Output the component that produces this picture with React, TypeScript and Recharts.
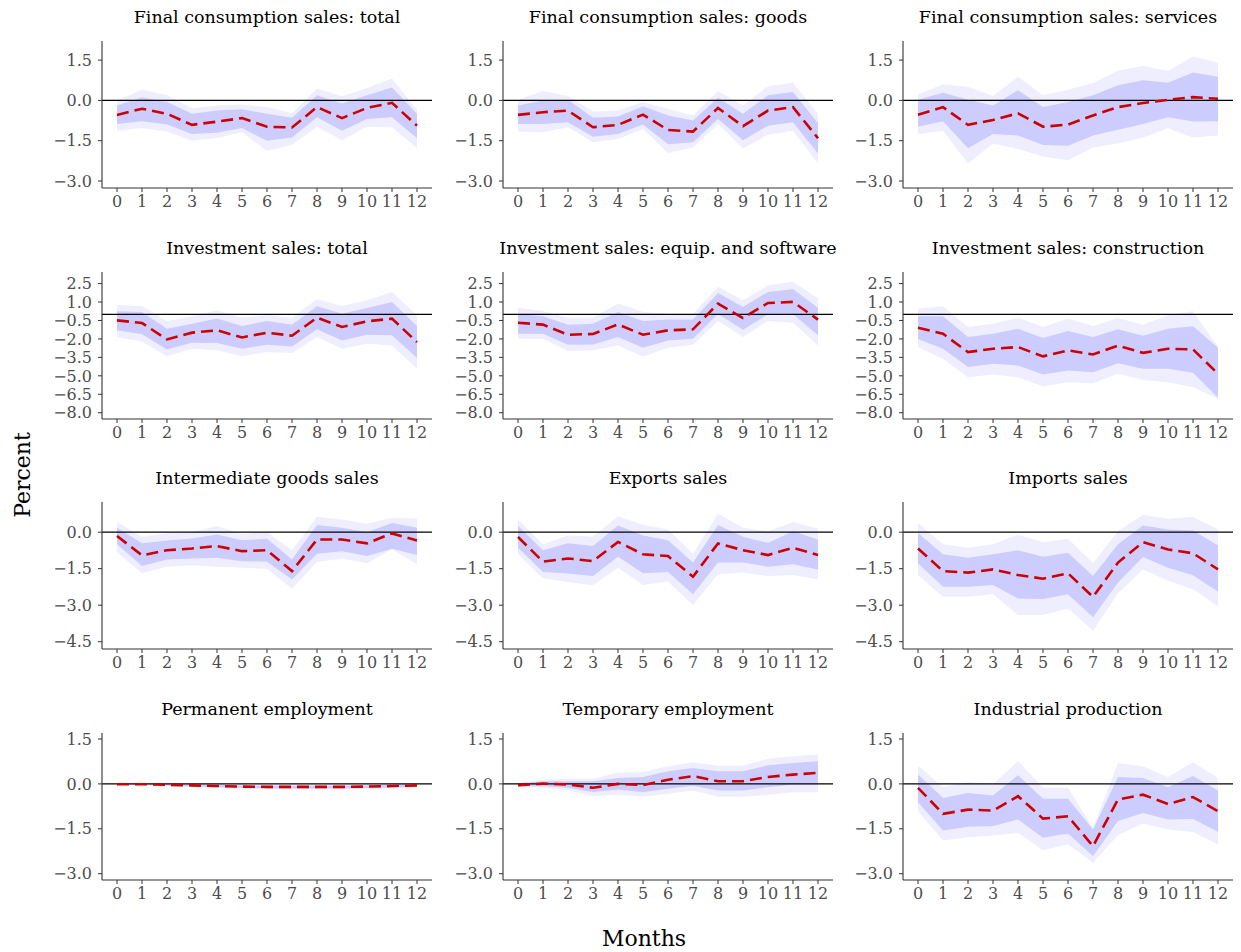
import React from "react";
import { ComposedChart, Area, Line, XAxis, YAxis, ReferenceLine } from "recharts";

const months = [0, 1, 2, 3, 4, 5, 6, 7, 8, 9, 10, 11, 12];

// Row tick labels
const ticksRow1 = [1.5, 0, -1.5, -3.0];
const ticksRow2 = [2.5, 1.0, -0.5, -2.0, -3.5, -5.0, -6.5, -8.0];
const ticksRow3 = [0, -1.5, -3.0, -4.5];
const ticksRow4 = [1.5, 0, -1.5, -3.0];

const titles = [
  "Final consumption sales: total",
  "Final consumption sales: goods",
  "Final consumption sales: services",
  "Investment sales: total",
  "Investment sales: equip. and software",
  "Investment sales: construction",
  "Intermediate goods sales",
  "Exports sales",
  "Imports sales",
  "Permanent employment",
  "Temporary employment",
  "Industrial production",
];

// 1 Final consumption total
const fcTotalMid = [-0.54, -0.31, -0.5, -0.91, -0.79, -0.66, -0.98, -1.01, -0.25, -0.66, -0.28, -0.09, -0.94];
const fcTotalInLo = [-0.88, -0.78, -0.9, -1.25, -1.2, -1.03, -1.5, -1.38, -0.63, -1.13, -0.69, -0.63, -1.41];
const fcTotalInHi = [-0.19, 0.12, -0.06, -0.5, -0.38, -0.33, -0.5, -0.65, 0.19, -0.12, 0.19, 0.48, -0.5];
const fcTotalOutLo = [-1.13, -1.03, -1.16, -1.5, -1.4, -1.19, -1.88, -1.65, -0.98, -1.48, -0.98, -1.0, -1.78];
const fcTotalOutHi = [0.0, 0.4, 0.19, -0.29, -0.19, -0.15, -0.25, -0.48, 0.44, 0.15, 0.46, 0.81, -0.35];

// 2 Final consumption goods
const fcGoodsMid = [-0.54, -0.44, -0.38, -1.0, -0.91, -0.53, -1.1, -1.16, -0.28, -0.96, -0.38, -0.25, -1.41];
const fcGoodsInLo = [-0.88, -0.88, -0.81, -1.35, -1.25, -0.9, -1.63, -1.56, -0.69, -1.48, -0.94, -0.81, -1.98];
const fcGoodsInHi = [-0.19, 0.0, 0.02, -0.65, -0.6, -0.22, -0.56, -0.75, 0.1, -0.5, 0.19, 0.31, -0.85];
const fcGoodsOutLo = [-1.16, -1.19, -1.0, -1.56, -1.44, -1.06, -1.96, -1.75, -0.88, -1.79, -1.28, -1.13, -2.35];
const fcGoodsOutHi = [0.02, 0.35, 0.16, -0.41, -0.38, -0.06, -0.31, -0.56, 0.35, -0.19, 0.53, 0.66, -0.5];

// 3 Final consumption services
const fcServMid = [-0.53, -0.25, -0.91, -0.73, -0.48, -0.98, -0.9, -0.56, -0.25, -0.1, 0.02, 0.12, 0.06];
const fcServInLo = [-0.98, -0.78, -1.78, -1.25, -1.31, -1.66, -1.69, -1.31, -1.09, -0.88, -0.63, -0.79, -0.78];
const fcServInHi = [0.02, 0.28, 0.02, -0.19, 0.38, -0.25, -0.06, 0.19, 0.56, 0.75, 0.66, 1.04, 0.88];
const fcServOutLo = [-1.25, -1.13, -2.35, -1.6, -1.81, -2.09, -2.23, -1.75, -1.6, -1.38, -1.04, -1.38, -1.31];
const fcServOutHi = [0.22, 0.6, 0.5, 0.16, 0.88, 0.19, 0.4, 0.65, 1.1, 1.29, 1.09, 1.63, 1.4];

// 4 Investment total
const invTotalMid = [-0.49, -0.71, -2.04, -1.49, -1.3, -1.88, -1.49, -1.74, -0.27, -1.03, -0.57, -0.35, -2.26];
const invTotalInLo = [-1.3, -1.63, -2.85, -2.31, -2.34, -2.8, -2.47, -2.61, -1.22, -2.12, -1.66, -1.71, -3.56];
const invTotalInHi = [0.24, 0.19, -1.17, -0.76, -0.35, -0.95, -0.54, -0.84, 0.65, 0.05, 0.52, 1.01, -0.95];
const invTotalOutLo = [-1.85, -2.2, -3.4, -2.8, -2.93, -3.4, -3.07, -3.15, -1.85, -2.8, -2.39, -2.53, -4.43];
const invTotalOutHi = [0.73, 0.68, -0.57, -0.16, 0.33, -0.27, -0.08, -0.27, 1.22, 0.68, 1.14, 1.82, -0.08];

// 5 Investment equipment and software
const invEqMid = [-0.68, -0.84, -1.66, -1.6, -0.82, -1.66, -1.3, -1.22, 0.87, -0.3, 0.92, 1.01, -0.43];
const invEqInLo = [-1.58, -1.58, -2.47, -2.45, -1.85, -2.72, -2.12, -1.98, 0.05, -1.25, 0.0, 0.0, -1.71];
const invEqInHi = [0.05, -0.16, -0.84, -0.76, 0.19, -0.54, -0.43, -0.43, 1.74, 0.6, 1.82, 2.04, 0.54];
const invEqOutLo = [-1.98, -1.98, -2.99, -2.93, -2.53, -3.42, -2.72, -2.47, -0.54, -1.85, -0.54, -0.68, -2.53];
const invEqOutHi = [0.54, 0.27, -0.27, -0.27, 0.87, 0.19, 0.05, 0.05, 2.23, 1.14, 2.36, 2.64, 1.28];

// 6 Investment construction
const invConMid = [-1.09, -1.58, -3.07, -2.8, -2.66, -3.42, -2.93, -3.26, -2.55, -3.13, -2.8, -2.85, -4.84];
const invConInLo = [-2.01, -2.8, -4.29, -4.02, -4.16, -4.89, -4.57, -4.7, -3.97, -4.43, -4.43, -4.76, -6.79];
const invConInHi = [-0.16, -0.16, -1.85, -1.58, -1.17, -1.93, -1.36, -1.85, -1.22, -1.74, -1.17, -0.98, -2.72];
const invConOutLo = [-2.66, -3.61, -5.11, -4.89, -5.11, -5.84, -5.52, -5.6, -4.84, -5.33, -5.52, -5.92, -6.85];
const invConOutHi = [0.46, 0.65, -1.03, -0.76, -0.27, -1.03, -0.35, -0.95, -0.3, -0.84, -0.08, 0.24, -2.65];

// 7 Intermediate goods
const intMid = [-0.16, -0.95, -0.74, -0.67, -0.57, -0.78, -0.74, -1.6, -0.3, -0.3, -0.46, -0.05, -0.34];
const intInLo = [-0.5, -1.39, -1.12, -1.08, -1.05, -1.19, -1.21, -1.94, -0.89, -0.78, -0.98, -0.68, -0.94];
const intInHi = [0.18, -0.46, -0.34, -0.26, -0.1, -0.33, -0.27, -1.12, 0.29, 0.18, 0.0, 0.38, 0.18];
const intOutLo = [-0.82, -1.69, -1.42, -1.36, -1.42, -1.46, -1.5, -2.32, -1.23, -1.08, -1.28, -0.7, -1.32];
const intOutHi = [0.42, -0.19, -0.05, 0.01, 0.25, -0.07, 0.0, -0.74, 0.63, 0.52, 0.35, 0.59, 0.55];

// 8 Exports
const expMid = [-0.2, -1.21, -1.08, -1.19, -0.4, -0.91, -0.98, -1.83, -0.46, -0.74, -0.94, -0.64, -0.94];
const expInLo = [-0.64, -1.64, -1.7, -1.8, -1.01, -1.69, -1.64, -2.55, -1.25, -1.25, -1.42, -1.32, -1.53];
const expInHi = [0.25, -0.74, -0.46, -0.57, 0.27, -0.14, -0.33, -1.25, 0.29, -0.19, -0.44, 0.04, -0.3];
const expOutLo = [-0.91, -1.9, -2.05, -2.18, -1.46, -2.17, -2.03, -2.99, -1.73, -1.66, -1.8, -1.76, -1.94];
const expOutHi = [0.52, -0.5, -0.14, -0.19, 0.65, 0.31, 0.11, -0.89, 0.76, 0.18, 0.04, 0.42, 0.14];

// 9 Imports
const impMid = [-0.67, -1.6, -1.66, -1.53, -1.76, -1.91, -1.69, -2.66, -1.25, -0.41, -0.71, -0.87, -1.53];
const impInLo = [-1.28, -2.24, -2.24, -2.17, -2.73, -2.75, -2.55, -3.5, -2.07, -1.02, -1.46, -1.77, -2.45];
const impInHi = [-0.03, -0.91, -1.05, -0.91, -0.74, -1.01, -0.85, -1.8, -0.5, 0.27, 0.11, 0.07, -0.55];
const impOutLo = [-1.77, -2.65, -2.65, -2.55, -3.4, -3.4, -3.14, -4.05, -2.51, -1.53, -2.0, -2.35, -3.05];
const impOutHi = [0.38, -0.5, -0.64, -0.5, -0.1, -0.41, -0.27, -1.28, 0.04, 0.72, 0.55, 0.63, 0.11];

// 10 Permanent employment
const permMid = [-0.01, -0.01, -0.03, -0.05, -0.07, -0.09, -0.1, -0.1, -0.1, -0.1, -0.09, -0.07, -0.05];
const permInLo = [-0.02, -0.04, -0.06, -0.09, -0.11, -0.13, -0.15, -0.15, -0.15, -0.15, -0.14, -0.12, -0.1];
const permInHi = [0.0, 0.01, 0.0, -0.01, -0.03, -0.05, -0.06, -0.06, -0.06, -0.06, -0.05, -0.03, -0.01];
const permOutLo = [-0.03, -0.05, -0.08, -0.11, -0.13, -0.16, -0.18, -0.18, -0.18, -0.18, -0.17, -0.15, -0.13];
const permOutHi = [0.01, 0.02, 0.01, 0.0, -0.01, -0.03, -0.04, -0.04, -0.04, -0.04, -0.03, -0.01, 0.01];

// 11 Temporary employment
const tempMid = [-0.04, 0.01, -0.02, -0.13, 0.0, -0.04, 0.14, 0.26, 0.09, 0.09, 0.23, 0.31, 0.37];
const tempInLo = [-0.08, -0.08, -0.13, -0.27, -0.19, -0.28, -0.16, -0.06, -0.22, -0.22, -0.11, -0.02, -0.02];
const tempInHi = [0.01, 0.09, 0.09, 0.09, 0.2, 0.23, 0.42, 0.53, 0.42, 0.42, 0.62, 0.7, 0.76];
const tempOutLo = [-0.1, -0.13, -0.21, -0.41, -0.36, -0.43, -0.33, -0.22, -0.43, -0.43, -0.36, -0.28, -0.28];
const tempOutHi = [0.03, 0.14, 0.17, 0.17, 0.37, 0.4, 0.59, 0.72, 0.61, 0.61, 0.84, 0.92, 0.98];

// 12 Industrial production
const ipMid = [-0.13, -1.0, -0.86, -0.89, -0.41, -1.16, -1.08, -2.08, -0.52, -0.36, -0.67, -0.44, -0.91];
const ipInLo = [-0.61, -1.56, -1.43, -1.41, -1.19, -1.8, -1.66, -2.41, -1.24, -0.97, -1.19, -1.17, -1.6];
const ipInHi = [0.31, -0.47, -0.3, -0.39, 0.29, -0.5, -0.5, -1.52, 0.23, 0.2, -0.11, 0.26, -0.22];
const ipOutLo = [-0.91, -1.89, -1.78, -1.72, -1.63, -2.22, -2.02, -2.63, -1.71, -1.32, -1.52, -1.61, -2.02];
const ipOutHi = [0.61, -0.1, 0.06, -0.02, 0.76, -0.13, -0.13, -1.47, 0.7, 0.59, 0.23, 0.72, 0.2];

const series = [
  [fcTotalMid, fcTotalInLo, fcTotalInHi, fcTotalOutLo, fcTotalOutHi],
  [fcGoodsMid, fcGoodsInLo, fcGoodsInHi, fcGoodsOutLo, fcGoodsOutHi],
  [fcServMid, fcServInLo, fcServInHi, fcServOutLo, fcServOutHi],
  [invTotalMid, invTotalInLo, invTotalInHi, invTotalOutLo, invTotalOutHi],
  [invEqMid, invEqInLo, invEqInHi, invEqOutLo, invEqOutHi],
  [invConMid, invConInLo, invConInHi, invConOutLo, invConOutHi],
  [intMid, intInLo, intInHi, intOutLo, intOutHi],
  [expMid, expInLo, expInHi, expOutLo, expOutHi],
  [impMid, impInLo, impInHi, impOutLo, impOutHi],
  [permMid, permInLo, permInHi, permOutLo, permOutHi],
  [tempMid, tempInLo, tempInHi, tempOutLo, tempOutHi],
  [ipMid, ipInLo, ipInHi, ipOutLo, ipOutHi],
];

const rowTicks = [ticksRow1, ticksRow2, ticksRow3, ticksRow4];
const rowDomains: [number, number][] = [
  [-3.26, 2.21],
  [-8.51, 3.44],
  [-4.8, 1.24],
  [-3.21, 1.7],
];

const rowTops = [41, 272, 502, 733];
const colAxisX = [102, 503, 903];
const PLOT_W = 330;
const PLOT_H = 147;
const YAXIS_W = 60;
const XAXIS_H = 32;
const TOP_PAD = 10;
const FONT = "'DejaVu Serif', serif";

const fmt = (v: number) => {
  const s = v.toFixed(1);
  return v < 0 ? "\u2212" + s.slice(1) : s;
};

function Panel({ idx }: { idx: number }) {
  const row = Math.floor(idx / 3);
  const col = idx % 3;
  const [mid, inLo, inHi, outLo, outHi] = series[idx];
  const data = months.map((m, i) => ({
    month: m,
    mid: mid[i],
    inner: [inLo[i], inHi[i]],
    outer: [outLo[i], outHi[i]],
  }));
  const left = colAxisX[col] - YAXIS_W;
  const top = rowTops[row];
  const tickStyle = { fontFamily: FONT, fontSize: 16, fill: "#4D4D4D" };
  return (
    <div style={{ position: "absolute", left, top: top - 34, width: YAXIS_W + PLOT_W + 8, height: PLOT_H + XAXIS_H + 34 }}>
      <div
        style={{
          position: "absolute",
          left: YAXIS_W - 50,
          width: PLOT_W + 100,
          top: -1,
          textAlign: "center",
          fontFamily: FONT,
          fontSize: 17.5,
          color: "#000",
          whiteSpace: "nowrap",
          lineHeight: "22px",
        }}
      >
        {titles[idx]}
      </div>
      <div style={{ position: "absolute", left: 0, top: 34 - TOP_PAD }}>
        <ComposedChart
          width={YAXIS_W + PLOT_W + 8}
          height={PLOT_H + XAXIS_H + TOP_PAD}
          data={data}
          margin={{ top: TOP_PAD, right: 8, bottom: 0, left: 0 }}
        >
          <XAxis
            dataKey="month"
            type="number"
            domain={[-0.6, 12.6]}
            ticks={months}
            allowDataOverflow
            interval={0}
            height={XAXIS_H}
            tickSize={4}
            tickMargin={4}
            stroke="#333333"
            tick={tickStyle}
            axisLine={{ stroke: "#333333", strokeWidth: 1.1 }}
            tickLine={{ stroke: "#333333" }}
          />
          <YAxis
            type="number"
            domain={rowDomains[row]}
            ticks={rowTicks[row]}
            allowDataOverflow
            interval={0}
            width={YAXIS_W}
            tickSize={4}
            tickMargin={6}
            tickFormatter={fmt}
            stroke="#333333"
            tick={tickStyle}
            axisLine={{ stroke: "#333333", strokeWidth: 1.1 }}
            tickLine={{ stroke: "#333333" }}
          />
          <Area
            dataKey="outer"
            type="linear"
            stroke="none"
            fill="#EEEEFF"
            fillOpacity={1}
            isAnimationActive={false}
            activeDot={false}
          />
          <Area
            dataKey="inner"
            type="linear"
            stroke="none"
            fill="#CCCCFF"
            fillOpacity={1}
            isAnimationActive={false}
            activeDot={false}
          />
          <ReferenceLine y={0} stroke="#000000" strokeWidth={1.2} />
          <Line
            dataKey="mid"
            type="linear"
            stroke="#CC0000"
            strokeWidth={2.6}
            strokeDasharray="12 6"
            dot={false}
            activeDot={false}
            isAnimationActive={false}
          />
        </ComposedChart>
      </div>
    </div>
  );
}

export default function App() {
  return (
    <div
      style={{
        position: "absolute",
        left: 0,
        top: 0,
        width: 1241,
        height: 952,
        background: "#ffffff",
        overflow: "hidden",
      }}
    >
      {titles.map((_, i) => (
        <Panel key={i} idx={i} />
      ))}
      <div
        style={{
          position: "absolute",
          left: 22,
          top: 475,
          transform: "translate(-50%, -50%) rotate(-90deg)",
          fontFamily: FONT,
          fontSize: 22,
          color: "#000",
          whiteSpace: "nowrap",
        }}
      >
        Percent
      </div>
      <div
        style={{
          position: "absolute",
          left: 644,
          top: 938,
          transform: "translate(-50%, -50%)",
          fontFamily: FONT,
          fontSize: 22,
          color: "#000",
          whiteSpace: "nowrap",
        }}
      >
        Months
      </div>
    </div>
  );
}
